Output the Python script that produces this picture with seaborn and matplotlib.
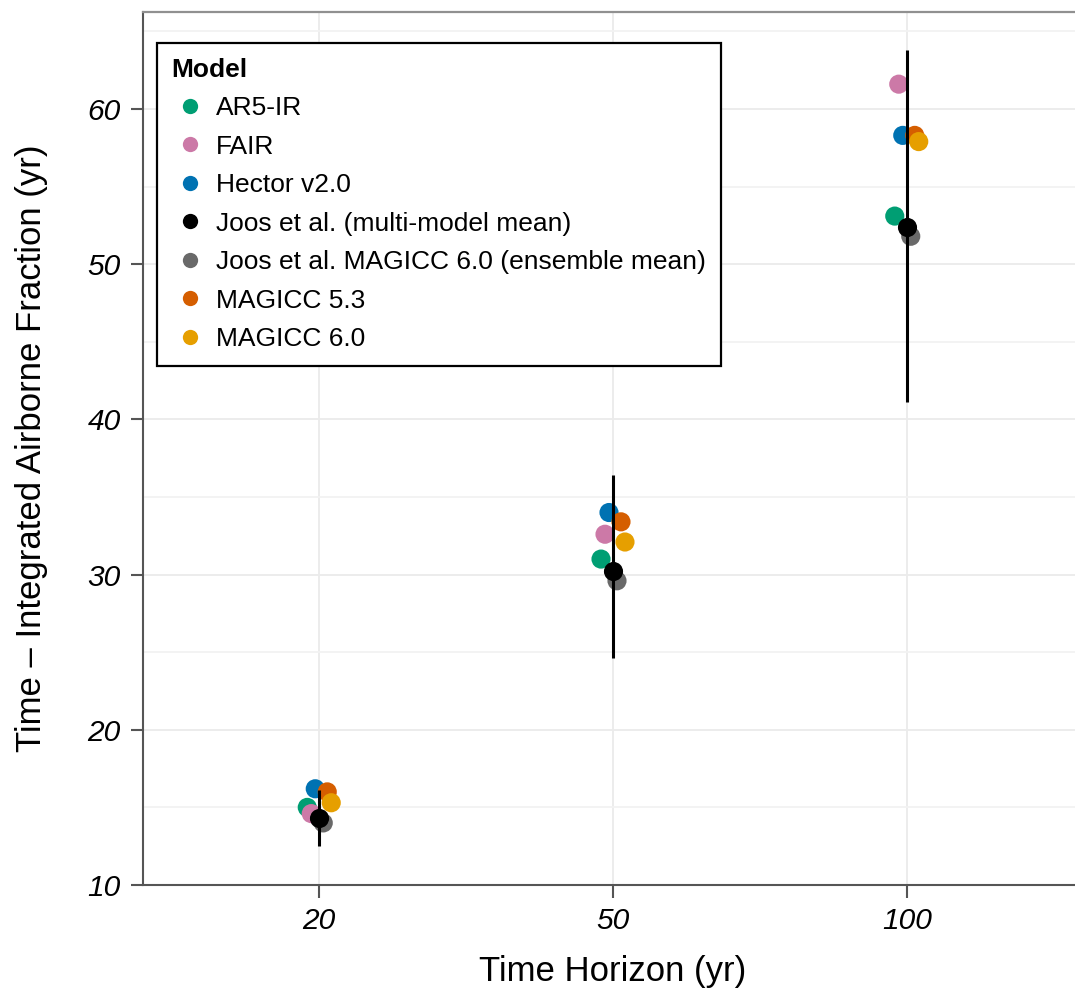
import numpy as np
import pandas as pd
import matplotlib
matplotlib.use("Agg")
import matplotlib.pyplot as plt
from matplotlib.lines import Line2D
import seaborn as sns

# ---- data ----
horizons = ["20", "50", "100"]
models = ["AR5-IR", "FAIR", "Hector v2.0", "Joos et al. (multi-model mean)",
          "Joos et al. MAGICC 6.0 (ensemble mean)", "MAGICC 5.3", "MAGICC 6.0"]
colors = ["#009E73", "#CC79A7", "#0072B2", "#000000", "#696969", "#D55E00", "#E69F00"]
ar5_ir = [15.0, 31.0, 53.1]
fair = [14.6, 32.6, 61.6]
hector = [16.2, 34.0, 58.3]
joos_mean = [14.3, 30.2, 52.4]
joos_magicc = [14.0, 29.6, 51.8]
magicc53 = [16.0, 33.4, 58.3]
magicc60 = [15.3, 32.1, 57.9]
joos_low = [12.5, 24.6, 41.1]
joos_high = [16.1, 36.4, 63.8]

values = [ar5_ir, fair, hector, joos_mean, joos_magicc, magicc53, magicc60]
rows = []
for m, vals in zip(models, values):
    for h, v in zip(horizons, vals):
        rows.append({"Model": m, "Horizon": h, "Value": v})
df = pd.DataFrame(rows)

sns.set_theme(style="white")
plt.rcParams["font.family"] = ["Liberation Sans", "DejaVu Sans"]
plt.rcParams["text.color"] = "black"
plt.rcParams["axes.labelcolor"] = "black"

fig = plt.figure(figsize=(10.75, 9.92), dpi=100)
ax = fig.add_axes([143/1075, 1 - 885/992, (1083 - 143)/1075, (885 - 12)/992])

step = 0.0136
df["xi"] = df["Horizon"].map({h: i for i, h in enumerate(horizons)})
df["mi"] = df["Model"].map({m: i for i, m in enumerate(models)})
df["x"] = df["xi"] + (df["mi"] - 3) * step
palette = dict(zip(models, colors))

others = df[df["Model"] != models[3]]
black = df[df["Model"] == models[3]]

sns.scatterplot(data=others, x="x", y="Value", hue="Model", hue_order=models,
                palette=palette, s=190, linewidth=0, legend=False, ax=ax, zorder=3)
xi = np.arange(len(horizons))
ax.vlines(xi, joos_low, joos_high, color="black", lw=2.2, zorder=4)
sns.scatterplot(data=black, x="x", y="Value", color="black", s=190, linewidth=0,
                legend=False, ax=ax, zorder=5)

ax.set_xlim(-0.6, 2.6)
ax.set_ylim(10, 66.25)
ax.set_xticks(xi)
ax.set_xticklabels(horizons)
ax.set_yticks([10, 20, 30, 40, 50, 60])
ax.set_yticks(np.arange(15, 70, 10), minor=True)
ax.grid(True, which="major", color="#EBEBEB", lw=1.3)
ax.grid(True, which="minor", axis="y", color="#F2F2F2", lw=1.3)
ax.set_axisbelow(True)

for t in ax.get_xticklabels() + ax.get_yticklabels():
    t.set_fontstyle("italic")
    t.set_fontsize(21.5)
    t.set_color("black")
ax.tick_params(axis="both", which="major", length=9, width=1.5, color="#555555",
               direction="out", pad=7, bottom=True, left=True)
ax.tick_params(axis="both", which="minor", length=0)

for side in ["left", "bottom"]:
    ax.spines[side].set_color("#555555")
    ax.spines[side].set_linewidth(1.5)
for side in ["top", "right"]:
    ax.spines[side].set_color("#909090")
    ax.spines[side].set_linewidth(1.6)

ax.set_xlabel("Time Horizon (yr)", fontsize=25, labelpad=14)
ax.set_ylabel("Time – Integrated Airborne Fraction (yr)", fontsize=25)
ax.yaxis.set_label_coords((48 - 143) / 940, 0.5)

handles = [Line2D([], [], marker="o", linestyle="", markersize=11,
                  markerfacecolor=c, markeredgewidth=0) for c in colors]
leg = ax.legend(handles, models, title="Model", loc="upper left",
                bbox_to_anchor=((157 - 143) / 940, 1 - (43 - 12) / 873),
                borderaxespad=0,
                fontsize=19, title_fontsize=19, frameon=True, fancybox=False,
                handletextpad=0.3, labelspacing=0.55, borderpad=0.55,
                handlelength=1.4, alignment="left")
leg.get_title().set_fontweight("bold")
frame = leg.get_frame()
frame.set_edgecolor("black")
frame.set_linewidth(1.6)
frame.set_alpha(1)

fig.savefig("out.png", dpi=100)
